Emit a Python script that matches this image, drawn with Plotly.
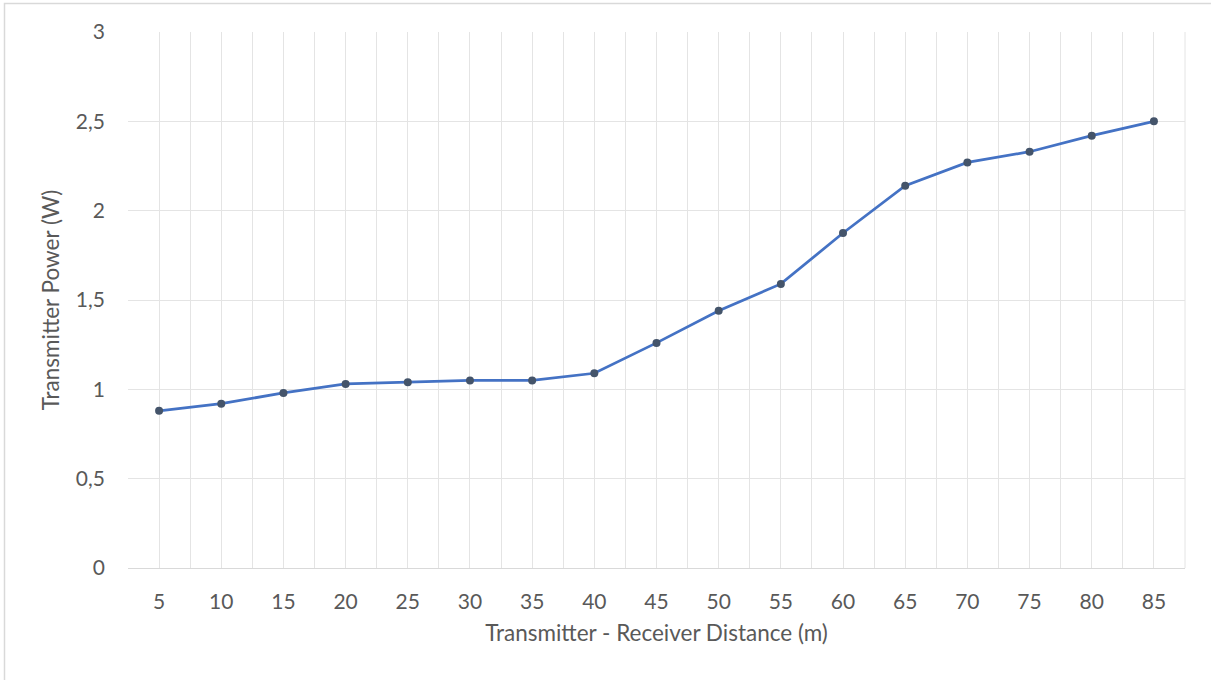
import plotly.graph_objects as go

distance = [5, 10, 15, 20, 25, 30, 35, 40, 45, 50, 55, 60, 65, 70, 75, 80, 85]
power = [0.88, 0.92, 0.98, 1.03, 1.04, 1.05, 1.05, 1.09, 1.26, 1.44, 1.59, 1.875, 2.14, 2.27, 2.33, 2.42, 2.5]
y_ticks = [0, 0.5, 1, 1.5, 2, 2.5, 3]

W, H = 1211, 680
L, R, T, B = 128, 26, 32, 112
pw, ph = W - L - R, H - T - B

def px2paper_x(px):
    return (px - L) / pw

def px2paper_y(py):
    return (H - B - py) / ph

font_fam = "Lato, 'Open Sans', sans-serif"
grey = "#595959"
gridc = "#E4E4E4"

fig = go.Figure()
fig.add_trace(go.Scatter(
    x=distance, y=power, mode="lines+markers",
    line=dict(color="#4472C4", width=2.75),
    marker=dict(color="#44546A", size=8),
    showlegend=False, cliponaxis=False,
))

fig.update_layout(
    width=W, height=H,
    margin=dict(l=L, r=R, t=T, b=B),
    paper_bgcolor="white", plot_bgcolor="white",
    separators=", ",
    font=dict(family=font_fam, color=grey, size=21),
    xaxis=dict(
        range=[2.5, 87.5], tickmode="array", tickvals=distance,
        ticktext=[str(d) for d in distance],
        showgrid=True, gridcolor=gridc, gridwidth=1,
        minor=dict(dtick=2.5, tick0=2.5, showgrid=True, gridcolor=gridc, gridwidth=1),
        zeroline=False, showline=True, linecolor="#D9D9D9", linewidth=1,
        ticks="", ticklabelstandoff=15,
        title=dict(text="Transmitter - Receiver Distance (m)", standoff=13,
                   font=dict(size=22.5, color=grey)),
        mirror=False,
    ),
    yaxis=dict(
        range=[0, 3], tickmode="array", tickvals=y_ticks,
        showgrid=True, gridcolor=gridc, gridwidth=1,
        zeroline=False, showline=False,
        ticks="", ticklabelstandoff=22,
        title=dict(text="Transmitter Power (W)", standoff=9,
                   font=dict(size=22.5, color=grey)),
    ),
)

# right edge gridline
fig.add_shape(type="line", xref="paper", yref="paper", x0=1, x1=1, y0=0, y1=1,
              line=dict(color=gridc, width=1), layer="below")

# outer chart border
fig.add_shape(type="rect", xref="paper", yref="paper",
              x0=px2paper_x(4.5), x1=px2paper_x(1216), y0=px2paper_y(3.5), y1=px2paper_y(690),
              line=dict(color="#D9D9D9", width=1.5), fillcolor="rgba(0,0,0,0)", layer="below")

fig.write_html("out.html")
